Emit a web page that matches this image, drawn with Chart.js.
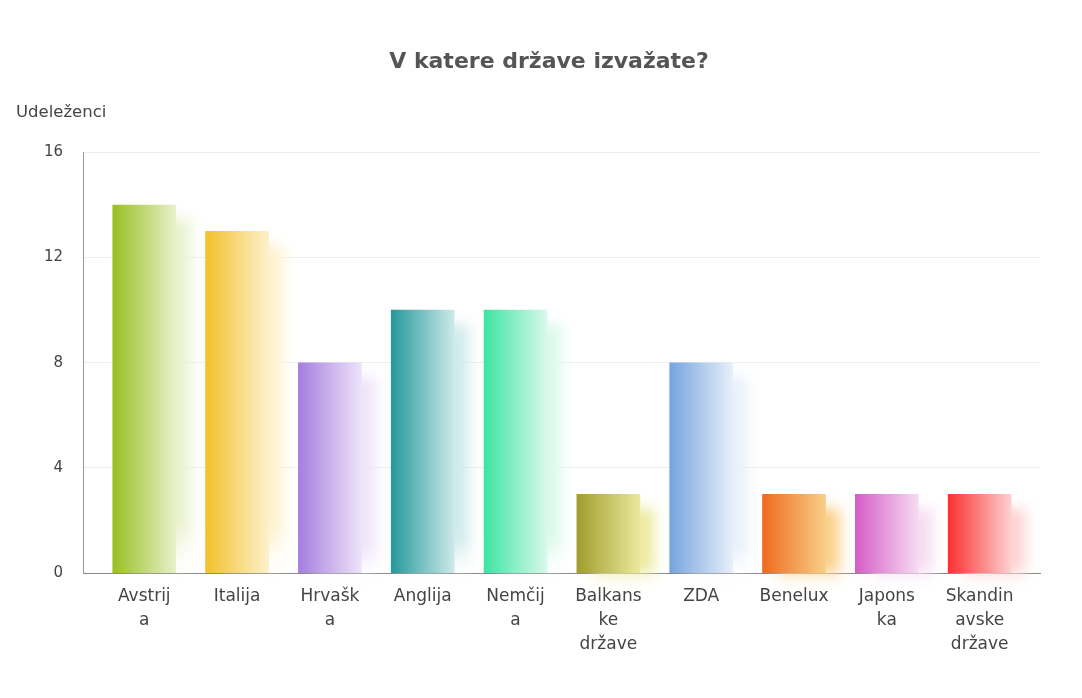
<!DOCTYPE html>
<html>
<head>
<meta charset="utf-8">
<script src="https://cdn.jsdelivr.net/npm/chart.js@4.4.1/dist/chart.umd.min.js"></script>
<style>
  html, body { margin: 0; padding: 0; background: #fff; }
  #wrap { width: 1082px; height: 698px; }
</style>
</head>
<body>
<div id="wrap"><canvas id="chart-izvoz"></canvas></div>
<script>
// podatki
const drzave = [
  ['Avstrij', 'a'], 'Italija', ['Hrvašk', 'a'], 'Anglija', ['Nemčij', 'a'],
  ['Balkans', 'ke', 'države'], 'ZDA', 'Benelux', ['Japons', 'ka'], ['Skandin', 'avske', 'države']
];
const udelezenci = [14, 13, 8, 10, 10, 3, 8, 3, 3, 3];
const yTicks = [0, 4, 8, 12, 16];

// barve stolpcev (levo temno, desno svetlo)
const barveTemne = ['#98bf22', '#f2c02a', '#a57ddf', '#23989a', '#3ce4a2', '#a09c2c', '#74a4de', '#ee6a1e', '#d65cc6', '#fa3030'];
const barveSvetle = ['#e9f1cb', '#fdf1cc', '#eee4fa', '#cfeaea', '#daf9ec', '#ece99e', '#e8f0fa', '#f9cf88', '#f6dcf2', '#fdd2d2'];

const ctx = document.getElementById('chart-izvoz').getContext('2d');

function gradient(context) {
  const chart = context.chart;
  const i = context.dataIndex;
  if (!chart.chartArea || i === undefined) return barveTemne[i] || '#ccc';
  const x = chart.scales.x.getPixelForValue(i);
  const g = chart.ctx.createLinearGradient(x - 32, 0, x + 32, 0);
  g.addColorStop(0, barveTemne[i]);
  g.addColorStop(1, barveSvetle[i]);
  return g;
}

// senca desno od stolpca
const sencaPlugin = {
  id: 'senca',
  beforeDatasetsDraw(chart) {
    const c = chart.ctx;
    const meta = chart.getDatasetMeta(0);
    c.save();
    c.filter = 'blur(7px)';
    meta.data.forEach((bar, i) => {
      const p = bar.getProps(['x', 'y', 'base', 'width'], true);
      const g = c.createLinearGradient(0, p.y, 0, p.base + 10);
      g.addColorStop(0, barveSvetle[i]);
      g.addColorStop(0.85, barveSvetle[i]);
      g.addColorStop(1, 'rgba(255,255,255,0)');
      c.fillStyle = g;
      c.fillRect(p.x - p.width / 2 + 16, p.y + 14, p.width - 2, p.base - p.y - 4);
    });
    c.restore();
  }
};

// napis osi y
const osPlugin = {
  id: 'napisOsi',
  afterDraw(chart) {
    const c = chart.ctx;
    c.save();
    c.font = '16.5px "DejaVu Sans"';
    c.fillStyle = '#444';
    c.textBaseline = 'middle';
    c.fillText('Udeleženci', 16, 113);
    c.restore();
  }
};

new Chart(ctx, {
  type: 'bar',
  data: {
    datasets: [{
      label: 'Udeleženci',
      data: udelezenci.map((v, i) => ({ x: i, y: v })),
      backgroundColor: gradient,
      borderWidth: 0,
      barThickness: 63
    }]
  },
  options: {
    responsive: true,
    maintainAspectRatio: false,
    animation: false,
    layout: { padding: { left: 16, right: 0, top: 0, bottom: 29 } },
    plugins: {
      legend: { display: false },
      tooltip: { enabled: false },
      title: {
        display: true,
        text: 'V katere države izvažate?',
        color: '#555',
        font: { family: 'DejaVu Sans', size: 22, weight: 'bold' },
        padding: { top: 49, bottom: 77 }
      }
    },
    scales: {
      x: {
        type: 'linear',
        offset: false,
        min: -0.66,
        max: 9.65,
        afterBuildTicks: (scale) => { scale.ticks = drzave.map((_, i) => ({ value: i })); },
        grid: { display: false, drawTicks: false },
        border: { display: true, color: '#888', width: 1 },
        ticks: {
          callback: (v) => drzave[v],
          color: '#444',
          padding: 12,
          maxRotation: 0,
          autoSkip: false,
          font: { family: 'DejaVu Sans', size: 17, lineHeight: 1.41 }
        }
      },
      y: {
        min: 0,
        max: 16,
        afterFit: (scale) => { scale.width = 67; },
        afterBuildTicks: (scale) => { scale.ticks = yTicks.map(v => ({ value: v })); },
        grid: { color: '#eeeeee', drawTicks: false },
        border: { display: true, color: '#999', width: 1 },
        ticks: {
          color: '#444',
          padding: 20,
          font: { family: 'DejaVu Sans', size: 15 }
        }
      },
      desno: {
        position: 'right',
        afterFit: (scale) => { scale.width = 42; },
        grid: { display: false },
        border: { display: false },
        ticks: { display: false }
      }
    }
  },
  plugins: [sencaPlugin, osPlugin]
});
</script>
</body>
</html>
